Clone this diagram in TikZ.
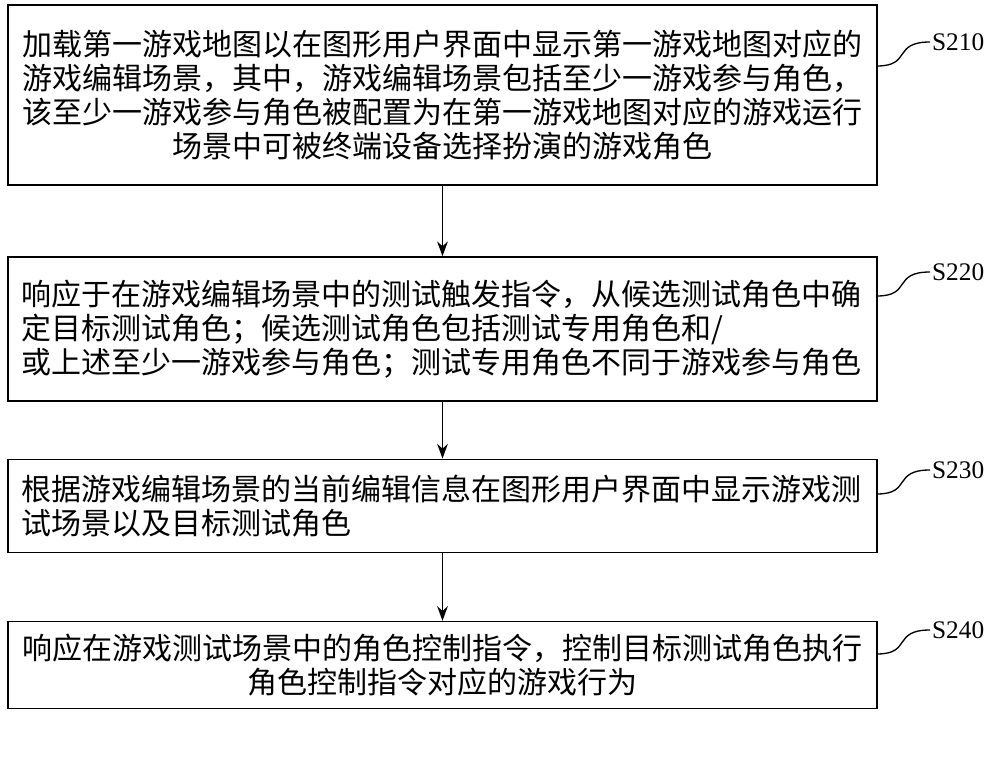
\documentclass[tikz,border=0pt]{standalone}
\usepackage{fontspec}
\setmainfont{Liberation Serif}
\newfontfamily\cjk{Noto Sans CJK SC}
\usetikzlibrary{arrows.meta}

\begin{document}
\begin{tikzpicture}[x=0.75pt,y=-0.75pt,line width=1.2pt]
    \tikzstyle{stepbox}=[draw,rectangle,minimum width=651.75pt,text width=632pt,inner sep=0pt,align=center,font=\cjk\fontsize{22.5}{25.5}\selectfont]
    \tikzstyle{flow}=[-{Stealth[length=11pt,width=8pt]}]
    \tikzstyle{steplabel}=[anchor=west,inner sep=1pt,font=\fontsize{19}{22}\selectfont]
    \useasboundingbox (0,0) rectangle (1000,771);

    % Steps
    \node[stepbox,minimum height=135pt] (B1) at (442.5,95) {加载第一游戏地图以在图形用户界面中显示第一游戏地图对应的\\游戏编辑场景，其中，游戏编辑场景包括至少一游戏参与角色，\\该至少一游戏参与角色被配置为在第一游戏地图对应的游戏运行\\场景中可被终端设备选择扮演的游戏角色};
    \node[stepbox,align=left,minimum height=108pt] (B2) at (442.5,329) {响应于在游戏编辑场景中的测试触发指令，从候选测试角色中确\\定目标测试角色；候选测试角色包括测试专用角色和/\\或上述至少一游戏参与角色；测试专用角色不同于游戏参与角色};
    \node[stepbox,align=left,minimum height=70pt] (B3) at (442.5,506) {根据游戏编辑场景的当前编辑信息在图形用户界面中显示游戏测\\试场景以及目标测试角色};
    \node[stepbox,minimum height=65pt] (B4) at (442.5,665) {响应在游戏测试场景中的角色控制指令，控制目标测试角色执行\\角色控制指令对应的游戏行为};

    \draw[flow] (B1) -- (B2);
    \draw[flow] (B2) -- (B3);
    \draw[flow] (B3) -- (B4);

    % Labels
    \node[steplabel] (S1) at (930,42) {S210};
    \node[steplabel] (S2) at (930,272) {S220};
    \node[steplabel] (S3) at (930,470) {S230};
    \node[steplabel] (S4) at (930,630) {S240};
    \foreach \i/\y in {1/42,2/272,3/470,4/630}{
        \coordinate (C\i) at (877,\y+24);
        \draw[line width=1pt] (C\i) .. controls (912,\y+24) and (892,\y) .. (S\i.west);
    }
\end{tikzpicture}
\end{document}
